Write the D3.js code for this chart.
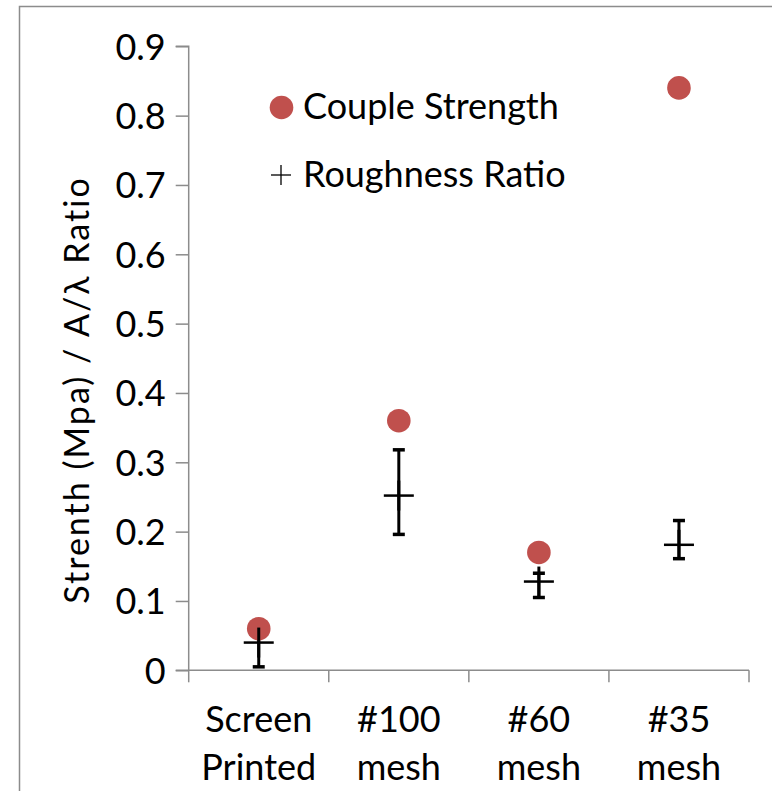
<!DOCTYPE html>
<html><head><meta charset="utf-8">
<script src="https://cdn.jsdelivr.net/npm/d3@7"></script>
<style>
html,body{margin:0;padding:0;background:#fff;}
svg text{font-family:Lato,"Open Sans",sans-serif;fill:#000;}
</style></head>
<body>
<svg id="chart" width="772" height="791"></svg>
<script>
const categories = ["Screen|Printed", "#100|mesh", "#60|mesh", "#35|mesh"];
const strength = [0.06, 0.36, 0.17, 0.84];
const roughness = [0.04, 0.252, 0.128, 0.181];
const roughLow = [0.005, 0.196, 0.105, 0.161];
const roughHigh = [0.07, 0.318, 0.140, 0.216];
const yTicks = [0, 0.1, 0.2, 0.3, 0.4, 0.5, 0.6, 0.7, 0.8, 0.9];
const legendLabels = ["Couple Strength", "Roughness Ratio"];
const yTitle = "Strenth (Mpa) / A/\u03bb Ratio";

const svg = d3.select("#chart");
const grey = "#8c8c8c";
const red = "#c0504d";

// outer border (top & left visible)
svg.append("path").attr("d", "M19.5,791 V6.5 H772")
  .attr("fill", "none").attr("stroke", grey).attr("stroke-width", 1.5);

const x = d3.scaleBand().domain(categories).range([188.7, 749]).padding(0);
const y = d3.scaleLinear().domain([0, 0.9]).range([670.3, 46.3]);

// y axis
const yAxis = d3.axisLeft(y).tickValues(yTicks).tickSize(13).tickPadding(10)
  .tickFormat(d => d === 0 ? "0" : d3.format(".1f")(d));
const gy = svg.append("g").attr("transform", "translate(188.7,0)").call(yAxis);
gy.select(".domain").attr("stroke", grey).attr("stroke-width", 1.5).attr("d", `M-13,${y(0.9)}H0V${y(0)}H-13`);
gy.selectAll(".tick line").attr("stroke", grey).attr("stroke-width", 1.5);
gy.selectAll(".tick text").style("font-size", "36px").attr("dy", "0.36em").attr("x", -23);

// x axis
const xAxis = d3.axisBottom(x).tickSize(0).tickFormat("");
const gx = svg.append("g").attr("transform", `translate(0,${y(0)})`).call(xAxis);
gx.select(".domain").attr("stroke", grey).attr("stroke-width", 1.5).attr("d", `M188.7,0H749`);
const bounds = [x.range()[0]].concat(categories.map(c => x(c) + x.bandwidth()));
gx.selectAll(".bound").data(bounds).enter().append("line")
  .attr("x1", d => d).attr("x2", d => d).attr("y1", 0).attr("y2", 12)
  .attr("stroke", grey).attr("stroke-width", 1.5);
categories.forEach(c => {
  const lines = c.split("|");
  const t = gx.append("text").attr("text-anchor", "middle").style("font-size", "36px")
    .attr("x", x(c) + x.bandwidth() / 2);
  lines.forEach((l, i) => t.append("tspan").attr("x", x(c) + x.bandwidth() / 2).attr("y", 62 + i * 48).text(l));
});

// y title
svg.append("text").attr("transform", `translate(89,390) rotate(-90)`)
  .attr("text-anchor", "middle").style("font-size", "34px").style("letter-spacing", "2px").text(yTitle);

const cx = i => x(categories[i]) + x.bandwidth() / 2;

// error bars
const eb = svg.append("g").attr("stroke", "#000");
roughness.forEach((v, i) => {
  eb.append("line").attr("x1", cx(i)).attr("x2", cx(i)).attr("y1", y(roughLow[i])).attr("y2", y(roughHigh[i])).attr("stroke-width", 3);
  [roughLow[i], roughHigh[i]].forEach(e => eb.append("line").attr("x1", cx(i) - 6).attr("x2", cx(i) + 6)
    .attr("y1", y(e)).attr("y2", y(e)).attr("stroke-width", 3.5));
});

// strength circles
svg.append("g").selectAll("circle").data(strength).enter().append("circle")
  .attr("cx", (d, i) => cx(i)).attr("cy", d => y(d)).attr("r", 11.8).attr("fill", red);

// roughness plus markers
const pm = svg.append("g").attr("stroke", "#000").attr("stroke-width", 2.5);
roughness.forEach((v, i) => {
  pm.append("line").attr("x1", cx(i) - 15).attr("x2", cx(i) + 15).attr("y1", y(v)).attr("y2", y(v));
  pm.append("line").attr("x1", cx(i)).attr("x2", cx(i)).attr("y1", y(v) - 15).attr("y2", y(v) + 15).attr("stroke-width", 3);
});

// legend
const lg = svg.append("g");
lg.append("circle").attr("cx", 281.5).attr("cy", 107.5).attr("r", 11.8).attr("fill", red);
lg.append("text").attr("x", 303).attr("y", 119).style("font-size", "36px").text(legendLabels[0]);
lg.append("line").attr("x1", 271).attr("x2", 291).attr("y1", 175).attr("y2", 175).attr("stroke", "#000").attr("stroke-width", 1.3);
lg.append("line").attr("x1", 281).attr("x2", 281).attr("y1", 165).attr("y2", 185).attr("stroke", "#000").attr("stroke-width", 1.3);
lg.append("text").attr("x", 303).attr("y", 187).style("font-size", "36px").text(legendLabels[1]);
</script>
</body></html>
